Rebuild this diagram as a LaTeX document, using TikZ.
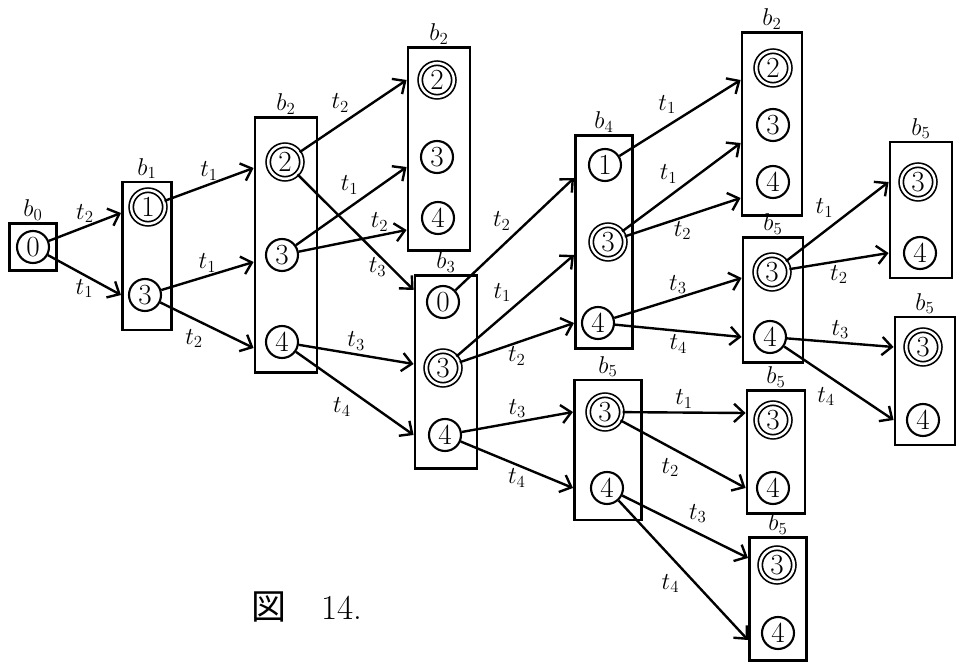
\documentclass[tikz,border=0pt]{standalone}
\usepackage{fontspec}
\newfontfamily\cjk{Noto Sans CJK JP}
\usetikzlibrary{arrows.meta, calc}

\begin{document}
\begin{tikzpicture}[x=0.025cm, y=-0.025cm,
  box/.style={draw, line width=2pt, inner sep=0pt},
  st/.style={draw, circle, line width=1.5pt, minimum size=0.8cm,
             inner sep=0pt, font=\huge},
  acc/.style={st, double, double distance=1.8pt, line width=1.2pt,
              minimum size=0.84cm},
  ar/.style={-{Straight Barb[length=7pt,width=13pt]}, line width=1.7pt},
  lb/.style={font=\LARGE, inner sep=2pt},
  bl/.style={font=\LARGE, inner sep=1pt},
  >=Stealth
]
\useasboundingbox (0,0) rectangle (960,669);

%% px grid: x right, y down

% boxes
\node[box, minimum width=1.18cm, minimum height=1.18cm,
      label={[bl]above:$b_0$}] (b0)  at (33,247)  {};
\node[box, minimum width=1.23cm, minimum height=3.70cm,
      label={[bl]above:$b_1$}] (b1)  at (147,256) {};
\node[box, minimum width=1.55cm, minimum height=6.38cm,
      label={[bl]above:$b_2$}] (b2)  at (286,245) {};
\node[box, minimum width=1.55cm, minimum height=5.08cm,
      label={[bl]above:$b_2$}] (b2x) at (439,149) {};
\node[box, minimum width=1.55cm, minimum height=4.83cm,
      label={[bl]above:$b_3$}] (b3)  at (446,372) {};
\node[box, minimum width=1.43cm, minimum height=5.33cm,
      label={[bl]above:$b_4$}] (b4)  at (604,242) {};
\node[box, minimum width=1.68cm, minimum height=3.50cm,
      label={[bl]above:$b_5$}] (b5x) at (608,450) {};
\node[box, minimum width=1.50cm, minimum height=4.58cm,
      label={[bl]above:$b_2$}] (b2y) at (772,124) {};
\node[box, minimum width=1.50cm, minimum height=3.13cm,
      label={[bl]above:$b_5$}] (b5m) at (773,300) {};
\node[box, minimum width=1.55cm, minimum height=3.40cm,
      label={[bl]above:$b_5$}] (b5r) at (921,210) {};
\node[box, minimum width=1.50cm, minimum height=3.20cm,
      label={[bl]above:$b_5$}] (b5s) at (925,381) {};
\node[box, minimum width=1.45cm, minimum height=3.08cm,
      label={[bl]above:$b_5$}] (b5c) at (776,452) {};
\node[box, minimum width=1.43cm, minimum height=3.08cm,
      label={[bl]above:$b_5$}] (b5d) at (778,599) {};

% states
\node[st]  (b0-0)  at (33,247)  {0};
\node[acc] (b1-1)  at (148,207) {1};
\node[st]  (b1-3)  at (145,295) {3};
\node[acc] (b2-2)  at (285,162) {2};
\node[st]  (b2-3)  at (282,255) {3};
\node[st]  (b2-4)  at (282,342) {4};
\node[acc] (b2x-2) at (437,80)  {2};
\node[st]  (b2x-3) at (437,157) {3};
\node[st]  (b2x-4) at (438,218) {4};
\node[st]  (b3-0)  at (443,302) {0};
\node[acc] (b3-3)  at (443,368) {3};
\node[st]  (b3-4)  at (445,435) {4};
\node[st]  (b4-1)  at (605,165) {1};
\node[acc] (b4-3)  at (608,242) {3};
\node[st]  (b4-4)  at (598,323) {4};
\node[acc] (b5x-3) at (605,412) {3};
\node[st]  (b5x-4) at (607,488) {4};
\node[acc] (b2y-2) at (773,68)  {2};
\node[st]  (b2y-3) at (773,125) {3};
\node[st]  (b2y-4) at (773,182) {4};
\node[acc] (b5m-3) at (772,272) {3};
\node[st]  (b5m-4) at (770,337) {4};
\node[acc] (b5r-3) at (918,182) {3};
\node[st]  (b5r-4) at (920,253) {4};
\node[acc] (b5s-3) at (923,347) {3};
\node[st]  (b5s-4) at (923,420) {4};
\node[acc] (b5c-3) at (773,420) {3};
\node[st]  (b5c-4) at (773,488) {4};
\node[acc] (b5d-3) at (777,565) {3};
\node[st]  (b5d-4) at (778,633) {4};

% b0 -> b1
\draw[ar] (b0-0) -- ($(b1.west |- b1-1)+(0,6)$)
      node[midway,above,lb]{$t_2$};
\draw[ar] (b0-0) -- (b1.west |- b1-3)
      node[midway,below,lb]{$t_1$};

% b1 -> b2
\draw[ar] (b1-1) -- ($(b2.west |- b2-2)+(0,6)$)
      node[midway,above,lb]{$t_1$};
\draw[ar] (b1-3) -- ($(b2.west |- b2-3)+(0,7)$)
      node[midway,above,lb]{$t_1$};
\draw[ar] (b1-3) -- ($(b2.west |- b2-4)+(0,6)$)
      node[midway,below left,lb]{$t_2$};

% b2 -> b2, b3
\draw[ar] (b2-2) -- (b2x.west |- b2x-2)
      node[midway,above left,lb]{$t_2$};
\draw[ar] (b2-2) -- ($(b3.west |- b3-0)+(0,-12)$)
      node[pos=0.8,left,lb]{$t_3$};
\draw[ar] (b2-3) -- ($(b2x.west |- b2x-3)+(0,10)$)
      node[pos=0.6,above left,lb]{$t_1$};
\draw[ar] (b2-3) -- ($(b2x.west |- b2x-4)+(0,12)$)
      node[pos=0.75,above,lb]{$t_2$};
\draw[ar] (b2-4) -- ($(b3.west |- b3-3)+(0,-4)$)
      node[midway,above,lb]{$t_3$};
\draw[ar] (b2-4) -- (b3.west |- b3-4)
      node[midway,below left,lb]{$t_4$};

% b3 -> b4, b5
\draw[ar] (b3-0) -- ($(b4.west |- b4-1)+(0,13)$)
      node[midway,above left,lb]{$t_2$};
\draw[ar] (b3-3) -- ($(b4.west |- b4-3)+(0,13)$)
      node[midway,above left,lb]{$t_1$};
\draw[ar] (b3-3) -- (b4.west |- b4-4)
      node[midway,below,lb]{$t_2$};
\draw[ar] (b3-4) -- (b5x.west |- b5x-3)
      node[midway,above,lb]{$t_3$};
\draw[ar] (b3-4) -- (b5x.west |- b5x-4)
      node[midway,below,lb]{$t_4$};

% b4 -> b2, b5
\draw[ar] (b4-1) -- ($(b2y.west |- b2y-2)+(0,12)$)
      node[midway,above left,lb]{$t_1$};
\draw[ar] (b4-3) -- ($(b2y.west |- b2y-3)+(0,18)$)
      node[midway,above left,lb]{$t_1$};
\draw[ar] (b4-3) -- ($(b2y.west |- b2y-4)+(0,16)$)
      node[midway,below,lb]{$t_2$};
\draw[ar] (b4-4) -- ($(b5m.west |- b5m-3)+(0,6)$)
      node[midway,above,lb]{$t_3$};
\draw[ar] (b4-4) -- (b5m.west |- b5m-4)
      node[midway,below,lb]{$t_4$};

% b5 -> b5 (upper)
\draw[ar] (b5m-3) -- (b5r.west |- b5r-3)
      node[midway,above left,lb]{$t_1$};
\draw[ar] (b5m-3) -- (b5r.west |- b5r-4)
      node[midway,below,lb]{$t_2$};
\draw[ar] (b5m-4) -- (b5s.west |- b5s-3)
      node[midway,above,lb]{$t_3$};
\draw[ar] (b5m-4) -- (b5s.west |- b5s-4)
      node[midway,below left,lb]{$t_4$};

% b5 -> b5 (lower)
\draw[ar] (b5x-3) -- ($(b5c.west |- b5c-3)+(0,-7)$)
      node[midway,above,lb]{$t_1$};
\draw[ar] (b5x-3) -- (b5c.west |- b5c-4)
      node[midway,below left,lb]{$t_2$};
\draw[ar] (b5x-4) -- ($(b5d.west |- b5d-3)+(0,-7)$)
      node[midway,above right,lb]{$t_3$};
\draw[ar] (b5x-4) -- ($(b5d.west |- b5d-4)+(0,7)$)
      node[midway,below left,lb]{$t_4$};

% caption
\node[font=\Huge] (cap) at (307,607) {{\cjk 図}\quad 14.};

\end{tikzpicture}
\end{document}
